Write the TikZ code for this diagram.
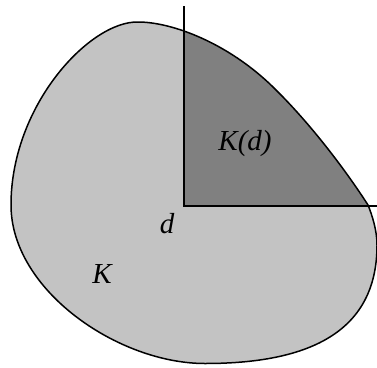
\documentclass[tikz,border=0pt]{standalone}
\usepackage{fontspec}
\setmainfont{Liberation Serif}
\begin{document}
\begin{tikzpicture}[x=1pt,y=-1pt,
  lbl/.style={inner sep=0pt,anchor=base,font=\fontsize{29}{34}\selectfont\itshape},
  edge/.style={line width=1.9pt},
  outline/.style={line width=1.5pt}]
\definecolor{lightK}{RGB}{195,195,195}
\definecolor{darkK}{RGB}{128,128,128}
\useasboundingbox (0,0) rectangle (377,367);
\def\blob{(138,22) .. controls (90,21) and (11,105) .. (11,205)
  .. controls (11,290) and (118,363.5) .. (205,363.5)
  .. controls (320,363.5) and (377,325) .. (377,245)
  .. controls (377,230) and (372,215) .. (368,205)
  .. controls (346.4,171.4) and (311,124) .. (273,87)
  .. controls (228,43) and (172,22) .. (138,22) -- cycle}
\fill[lightK] \blob;
\begin{scope}
  \clip (184.3,0) rectangle (377,206);
  \fill[darkK] \blob;
\end{scope}
\draw[outline] \blob;
\coordinate (d) at (184.3,206);
\coordinate (top) at (184.3,6);
\coordinate (right) at (377,206);
\draw[edge] (top) -- (d) -- (right);
\node[lbl] (Kd) at (245,150.5) {K(d)};
\node[lbl] (dl) at (167,233) {d};
\node[lbl] (K) at (102,283) {K};
\end{tikzpicture}
\end{document}
